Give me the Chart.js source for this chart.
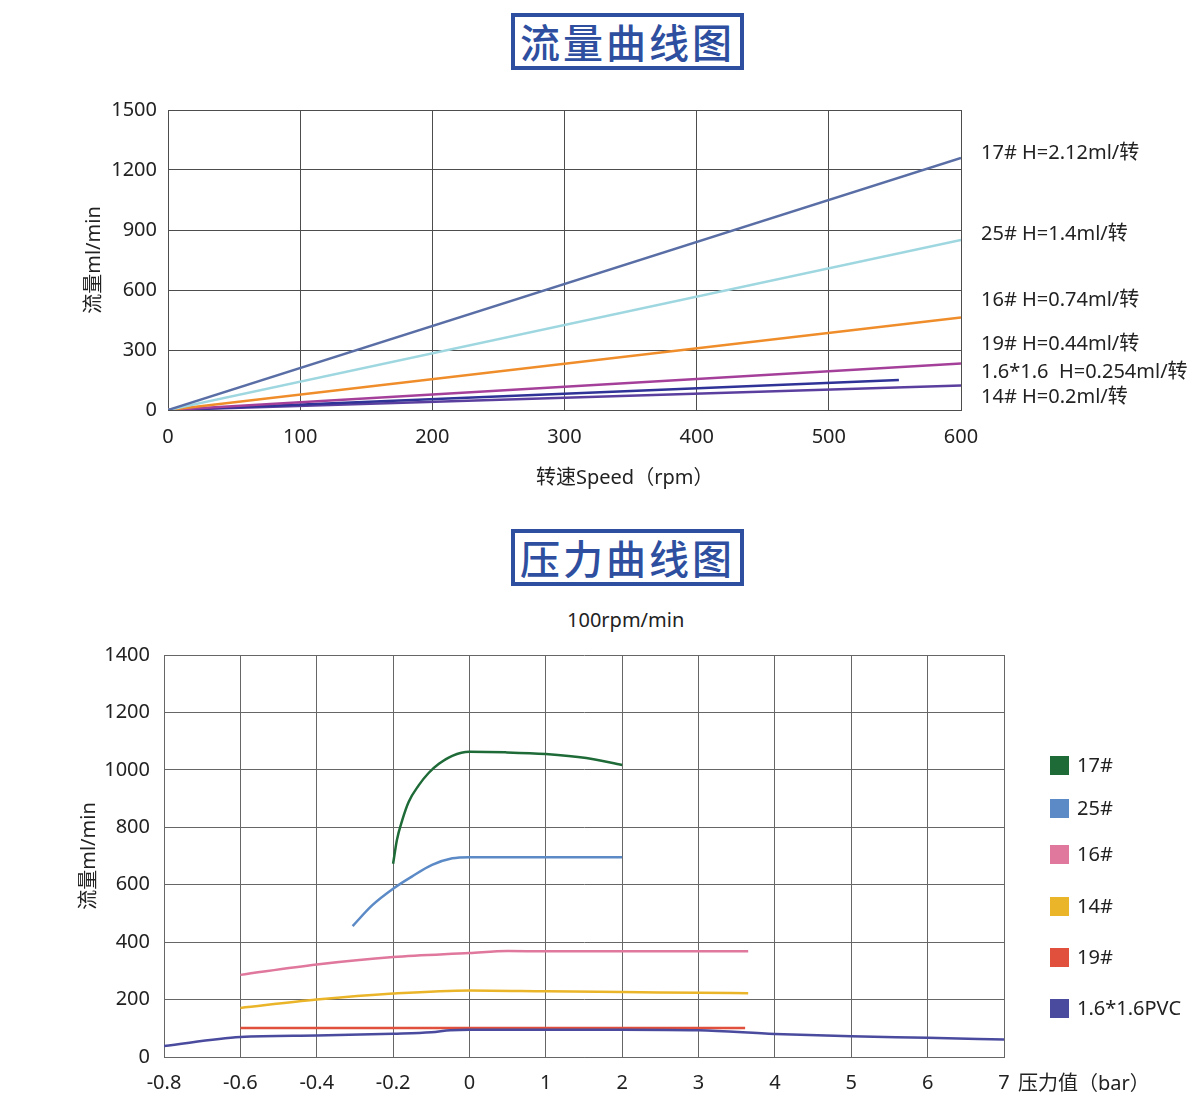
<!DOCTYPE html>
<html>
<head>
<meta charset="utf-8">
<script src="https://cdn.jsdelivr.net/npm/chart.js@4.4.0/dist/chart.umd.min.js"></script>
<style>
  body { margin: 0; background: #fff; font-family: "Noto Sans", "Noto Sans CJK SC", sans-serif; color: #222; }
  #page { position: relative; width: 1200px; height: 1111px; overflow: hidden; }
  .box { position: absolute; left: 511px; width: 225px; height: 49px; border: 4px solid #2E4F9F; color: #2E4F9F;
         font-family: "Noto Sans CJK SC", sans-serif; font-size: 40px; font-weight: 500; text-align: center;
         line-height: 49px; letter-spacing: 3px; }
  .txt { position: absolute; font-size: 20px; line-height: 24px; white-space: pre; color: #222; }
  .sq { position: absolute; width: 19px; height: 19px; }
  canvas { position: absolute; left: 0; }
</style>
</head>
<body>
<div id="page">
  <div class="box" style="top:13px">流量曲线图</div>
  <canvas id="flowChart" width="1200" height="423" style="top:87px"></canvas>
  <div class="txt" style="left:536px; top:465px">转速Speed（rpm）</div>
  <div id="flowNotes"></div>

  <div class="box" style="top:529px">压力曲线图</div>
  <div class="txt" style="left:567px; top:608px">100rpm/min</div>
  <canvas id="pressChart" width="1200" height="481" style="top:629px"></canvas>
  <div class="txt" style="left:1018px; top:1071px">压力值（bar）</div>
  <div id="pressLegend"></div>
</div>
<script>
// 流量曲线 (rpm -> ml/min)
const flowNotes = ['17# H=2.12ml/转', '25# H=1.4ml/转', '16# H=0.74ml/转', '19# H=0.44ml/转', '1.6*1.6  H=0.254ml/转', '14# H=0.2ml/转'];
const flowEndSpeed = [600, 600, 600, 600, 553, 600];
const flowEndValue = [1260, 850, 462, 232, 150, 122];
const flowColors = ['#5A6EA6', '#9ED7E0', '#F08D2B', '#A5409A', '#2F3296', '#5B3F9F'];
const noteTops = [140, 221, 287, 331, 359, 384];

// 压力曲线 (bar -> ml/min)
const pressureTicks = ['-0.8', '-0.6', '-0.4', '-0.2', '0', '1', '2', '3', '4', '5', '6', '7'];
const pressNames = ['17#', '25#', '16#', '14#', '19#', '1.6*1.6PVC'];
const p17 = [-0.2, -0.19, -0.176, -0.159, -0.133, -0.107, -0.08, -0.045, 0, 0.47, 1, 1.53, 2];
const q17 = [673, 756, 825, 889, 946, 989, 1021, 1049, 1063, 1061, 1055, 1041, 1017];
const p25 = [-0.306, -0.255, -0.2, -0.15, -0.098, -0.045, 0, 1, 2];
const q25 = [456, 528, 586, 629, 669, 692, 696, 696, 696];
const p16 = [-0.6, -0.4, -0.2, 0, 0.5, 1, 2, 3, 3.65];
const q16 = [286, 322, 348, 362, 369, 368, 368, 368, 368];
const p14 = [-0.6, -0.4, -0.2, 0, 1, 2, 3, 3.65];
const q14 = [171, 200, 221, 232, 229, 226, 224, 222];
const p19 = [-0.6, 3.61];
const q19 = [101, 101];
const pPVC = [-0.8, -0.6, -0.4, -0.2, -0.1, -0.05, 0, 1, 2, 3, 4, 5, 6, 7];
const qPVC = [38, 70, 75, 81, 86, 93, 95, 95, 95, 93, 80, 72, 67, 61];
const pressColors = ['#1E6B38', '#5B8AC6', '#E0779C', '#EBB52A', '#E0503C', '#4A4B9E'];
const legendTops = [765, 808, 854, 906, 957, 1008];

const tickFont = { family: '"Noto Sans", "Noto Sans CJK SC", sans-serif', size: 20 };

// 流量图
var flowSets = [];
for (let i = 0; i < flowEndValue.length; i++) {
    flowSets.push({
        label: flowNotes[i],
        data: [{ x: 0, y: 0 }, { x: flowEndSpeed[i], y: flowEndValue[i] }],
        borderColor: flowColors[i],
        borderWidth: 2.5,
        pointRadius: 0
    });
}

new Chart(document.getElementById('flowChart'), {
    type: 'line',
    data: { datasets: flowSets },
    options: {
        responsive: false,
        animation: false,
        layout: { padding: { left: 80, top: 20, right: 239, bottom: 10 } },
        plugins: { legend: { display: false }, tooltip: { enabled: false } },
        scales: {
            x: {
                type: 'linear', min: 0, max: 600,
                ticks: { stepSize: 100, color: '#222', font: tickFont, padding: 15, maxRotation: 0, callback: (v) => String(v) },
                grid: { color: '#4d4d4d', drawTicks: false },
                border: { color: '#4d4d4d' },
                afterFit: (s) => { s.height = 90; }
            },
            y: {
                min: 0, max: 1500,
                ticks: { stepSize: 300, color: '#222', font: tickFont, padding: 11, callback: (v) => String(v) },
                grid: { color: '#4d4d4d', drawTicks: false },
                border: { color: '#4d4d4d' },
                title: { display: true, text: '流量ml/min', color: '#222', font: tickFont, padding: { top: 2, bottom: 0 } },
                afterFit: (s) => { s.width = 88; }
            }
        }
    }
});

var notesBox = document.getElementById('flowNotes');
flowNotes.forEach((t, i) => {
    const d = document.createElement('div');
    d.className = 'txt';
    d.style.left = '981px';
    d.style.top = noteTops[i] + 'px';
    d.textContent = t;
    notesBox.appendChild(d);
});

// 压力图
function toIndex(p) {
    return p < 0 ? (p + 0.8) / 0.2 : 4 + p;
}

function points(ps, qs) {
    return ps.map((p, i) => ({ x: toIndex(p), y: qs[i] }));
}

const pressData = [[p17, q17], [p25, q25], [p16, q16], [p14, q14], [p19, q19], [pPVC, qPVC]];
var pressSets = [];
for (let i = pressData.length - 1; i >= 0; i--) {
    pressSets.push({
        label: pressNames[i],
        data: points(pressData[i][0], pressData[i][1]),
        borderColor: pressColors[i],
        borderWidth: 2.5,
        pointRadius: 0,
        cubicInterpolationMode: 'monotone'
    });
}

new Chart(document.getElementById('pressChart'), {
    type: 'line',
    data: { datasets: pressSets },
    options: {
        responsive: false,
        animation: false,
        layout: { padding: { left: 70, top: 15, right: 196, bottom: 10 } },
        plugins: { legend: { display: false }, tooltip: { enabled: false } },
        scales: {
            x: {
                type: 'linear', min: 0, max: 11,
                ticks: { stepSize: 1, color: '#222', font: tickFont, padding: 14, maxRotation: 0,
                         callback: (v) => pressureTicks[v] },
                grid: { color: '#666', drawTicks: false },
                border: { color: '#666' },
                afterFit: (s) => { s.height = 43; }
            },
            y: {
                min: 0, max: 1400,
                ticks: { stepSize: 200, color: '#222', font: tickFont, padding: 14, callback: (v) => String(v) },
                grid: { color: '#666', drawTicks: false },
                border: { color: '#666' },
                title: { display: true, text: '流量ml/min', color: '#222', font: tickFont, padding: { top: 7, bottom: 0 } },
                afterFit: (s) => { s.width = 94; }
            }
        }
    }
});

var legendBox = document.getElementById('pressLegend');
pressNames.forEach((name, i) => {
    const sq = document.createElement('div');
    sq.className = 'sq';
    sq.style.left = '1050px';
    sq.style.top = (legendTops[i] - 9) + 'px';
    sq.style.background = pressColors[i];
    legendBox.appendChild(sq);
    const t = document.createElement('div');
    t.className = 'txt';
    t.style.left = '1077px';
    t.style.top = (legendTops[i] - 12) + 'px';
    t.textContent = name;
    legendBox.appendChild(t);
});
</script>
</body>
</html>
